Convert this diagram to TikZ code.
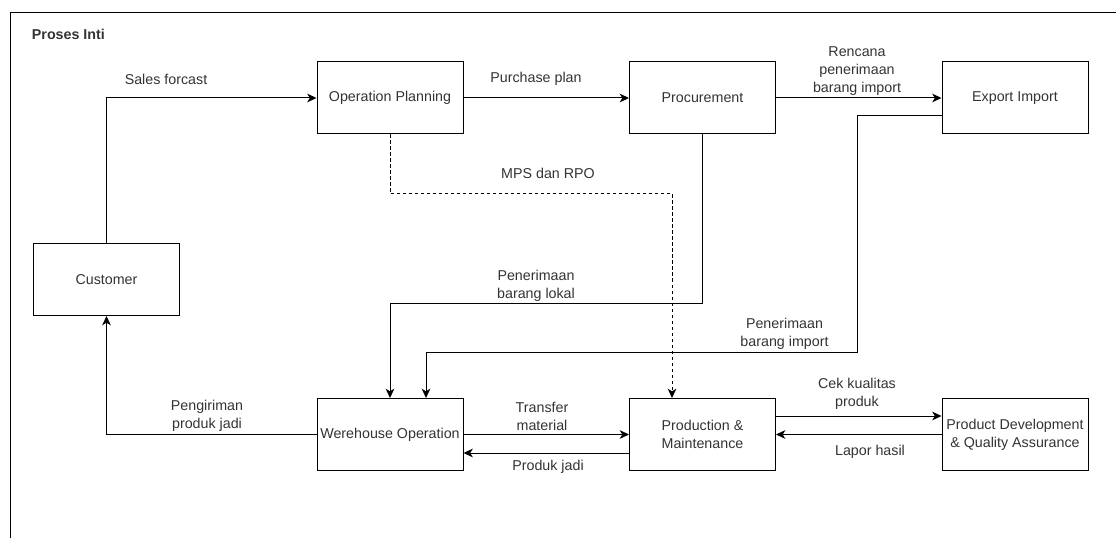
\documentclass[tikz,border=0pt]{standalone}
\usepackage{fontspec}
\setmainfont{Liberation Sans}
\usetikzlibrary{arrows.meta}
\tikzset{
  kotak/.style={draw, minimum width=109.5pt, minimum height=54pt, align=center, inner sep=1pt},
  panah/.style={-{Stealth[length=7pt,width=6.5pt,inset=2pt]}},
  putus/.style={dash pattern=on 2.5pt off 2pt},
  teks/.style={align=center, inner sep=0pt},
}
\begin{document}
\begin{tikzpicture}[x=0.75pt,y=-0.75pt,line width=0.75pt,
  every node/.style={text=black!80,font=\fontsize{10.7pt}{13.5pt}\selectfont}]
\useasboundingbox (0,0) rectangle (1116,538);
% frame
\draw (10,538) -- (10,13) -- (1116,13);
\node[anchor=west,font=\fontsize{10.7pt}{13.5pt}\selectfont\bfseries] (judul) at (27,34) {Proses Inti};

% boxes
\node[kotak] (op) at (390,98) {Operation Planning};
\node[kotak] (proc) at (702.5,98) {Procurement};
\node[kotak] (ei) at (1015,98) {Export Import};
\node[kotak] (cust) at (106.5,279.5) {Customer};
\node[kotak] (wo) at (390,434.5) {Werehouse Operation};
\node[kotak] (pm) at (702.5,434.5) {Production \&\\Maintenance};
\node[kotak] (pdqa) at (1015,434.5) {Product Development\\\& Quality Assurance};

% arrows
\draw[panah] (cust.north) |- (op.west);
\draw[panah] (op) -- (proc);
\draw[panah] (proc) -- (ei);
\draw[panah,putus] (op.south) |- (672,194) -- (672,0 |- pm.north);
\draw[panah] (proc.south) |- (390,303) -- (wo.north);
\draw[panah] (ei.west |- 0,116) -| (857,352) -| (426,0 |- wo.north);
\draw[panah] (wo.west) -| (cust.south);
\draw[panah] (wo.east) -- (pm.west);
\draw[panah] (pm.west |- 0,453) -- (wo.east |- 0,453);
\draw[panah] (pm.east |- 0,416) -- (pdqa.west |- 0,416);
\draw[panah] (pdqa.west) -- (pm.east);

% labels
\node[teks] (l1) at (166,79) {Sales forcast};
\node[teks] (l2) at (536,79) {Purchase plan};
\node[teks] (l3) at (857,71) {Rencana\\penerimaan\\barang import};
\node[teks] (l4) at (548,173) {MPS dan RPO};
\node[teks] (l5) at (536,286) {Penerimaan\\barang lokal};
\node[teks] (l6) at (784.5,334) {Penerimaan\\barang import};
\node[teks] (l7) at (207,416) {Pengiriman\\produk jadi};
\node[teks] (l8) at (542,416) {Transfer\\material};
\node[teks] (l9) at (548,467) {Produk jadi};
\node[teks] (l10) at (857,394) {Cek kualitas\\produk};
\node[teks] (l11) at (870,452) {Lapor hasil};
\end{tikzpicture}
\end{document}
